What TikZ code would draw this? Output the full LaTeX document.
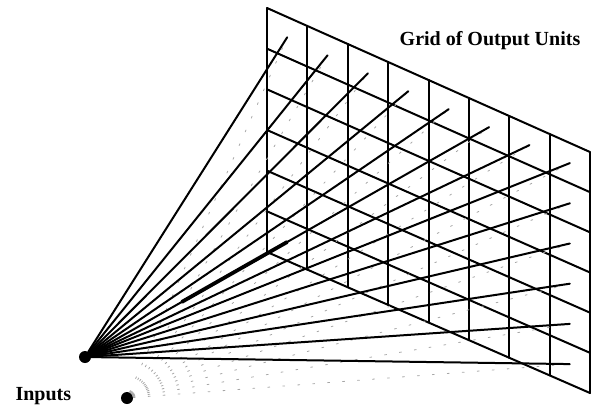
\documentclass[tikz,border=0pt]{standalone}
\usepackage{fontspec}
\setmainfont{Liberation Serif}
\usetikzlibrary{calc}
\tikzset{
	unite/.style={circle,fill=black,inner sep=0pt,minimum size=12pt},
	lien/.style={line width=2pt},
	lienfaible/.style={line width=0.8pt,black!35,dash pattern=on 2pt off 13pt},
	titre/.style={font=\fontsize{20}{22}\selectfont\bfseries},
}
\begin{document}
\begin{tikzpicture}[x=1pt,y=-1pt,line cap=round]
	% Cadre de l'image
	\useasboundingbox (0,0) rectangle (591,405);
	% Coins de la grille
	\coordinate (TL) at (267,8);
	\coordinate (TR) at (590,152);
	\coordinate (BL) at (267,252);
	\coordinate (BR) at (590,393);
	% Grille
	\foreach \i in {0,...,8}
		\draw [lien] ($(TL)!\i/8!(TR)$) -- ($(BL)!\i/8!(BR)$);
	\foreach \j in {0,...,6}
		\draw [lien] ($(TL)!\j/6!(BL)$) -- ($(TR)!\j/6!(BR)$);
	% Centres des unites
	\foreach \i in {0,...,7}
	\foreach \j in {0,...,5} {
		\pgfmathsetmacro\posx{(\i+.5)/8}
		\pgfmathsetmacro\posy{(\j+.5)/6}
		\coordinate (u-\i-\j) at ({267+323*\posx},{8+144*\posx+(244-3*\posx)*\posy});
	}
	% Entrees
	\node [unite] (e1) at (85,357) {};
	\node [unite] (e2) at (127,398) {};
	% Liens de la seconde entree
	\foreach \i in {0,...,7}
		\draw [lienfaible] (e2) -- (u-\i-0);
	\foreach \j in {1,...,5}
		\draw [lienfaible] (e2) -- (u-7-\j);
	% Liens de la premiere entree
	\foreach \i in {0,...,7}
		\draw [lien] (e1) -- (u-\i-0);
	\foreach \j in {1,...,5}
		\draw [lien] (e1) -- (u-7-\j);
	\draw [line width=3.8pt] ($(e1)!0.24!(u-5-0)$) -- ($(e1)!0.5!(u-5-0)$);
	% Textes
	\node [titre,anchor=base] (grille) at (490,45) {Grid of Output Units};
	\node [titre,anchor=base west] (entrees) at (12,400) {Inputs};
\end{tikzpicture}
\end{document}
